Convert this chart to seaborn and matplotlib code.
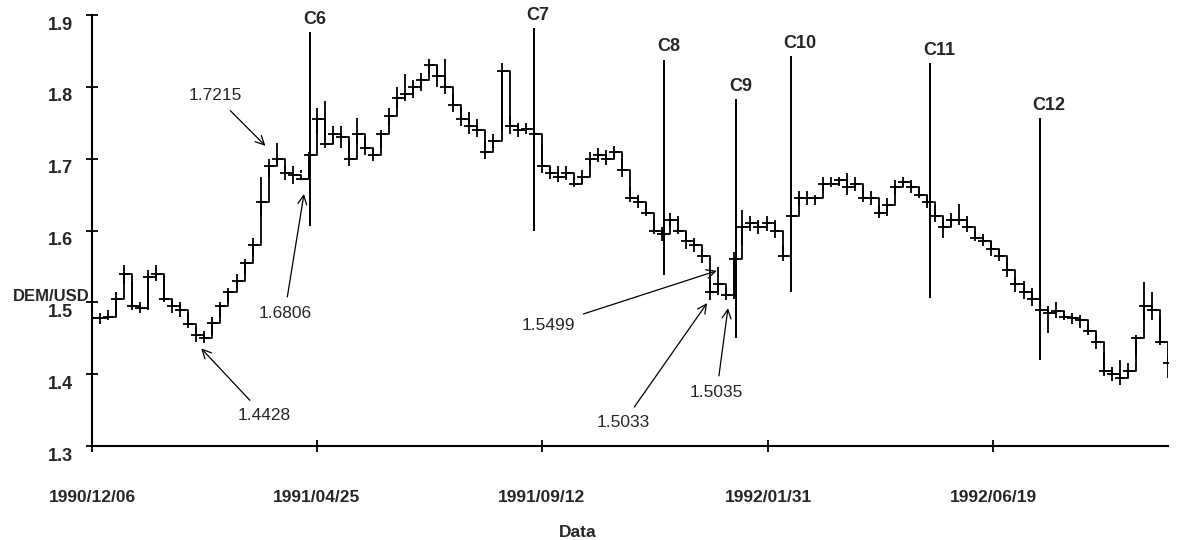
import matplotlib
matplotlib.use("Agg")
import matplotlib.pyplot as plt
import matplotlib.transforms as mtransforms
import numpy as np
import pandas as pd
import seaborn as sns

# ---- DEM/USD rate, sampled every 5 calendar days from 1990-12-06 ----
start_date = "1990-12-06"
close = [1.478, 1.478, 1.480, 1.505, 1.540, 1.495, 1.492, 1.535, 1.540, 1.505,
         1.495, 1.490, 1.470, 1.455, 1.450, 1.472, 1.495, 1.515, 1.530, 1.555,
         1.580, 1.640, 1.690, 1.700, 1.680, 1.678, 1.672, 1.705, 1.755, 1.720,
         1.735, 1.730, 1.700, 1.735, 1.715, 1.705, 1.735, 1.760, 1.785, 1.790,
         1.800, 1.810, 1.830, 1.815, 1.800, 1.775, 1.755, 1.745, 1.740, 1.710,
         1.725, 1.822, 1.745, 1.740, 1.742, 1.735, 1.690, 1.680, 1.675, 1.680,
         1.665, 1.675, 1.700, 1.705, 1.700, 1.710, 1.685, 1.645, 1.640, 1.625,
         1.600, 1.595, 1.615, 1.600, 1.585, 1.580, 1.565, 1.515, 1.525, 1.510,
         1.560, 1.605, 1.610, 1.605, 1.610, 1.600, 1.565, 1.620, 1.645, 1.645,
         1.645, 1.665, 1.665, 1.670, 1.660, 1.665, 1.645, 1.645, 1.625, 1.635,
         1.660, 1.668, 1.660, 1.650, 1.640, 1.620, 1.605, 1.615, 1.615, 1.605,
         1.590, 1.585, 1.575, 1.565, 1.545, 1.525, 1.515, 1.505, 1.490, 1.485,
         1.488, 1.480, 1.478, 1.475, 1.460, 1.445, 1.405, 1.400, 1.395, 1.405,
         1.450, 1.495, 1.490, 1.445, 1.415]
high = [1.490, 1.485, 1.490, 1.515, 1.552, 1.530, 1.500, 1.545, 1.552, 1.540,
        1.505, 1.500, 1.485, 1.465, 1.460, 1.480, 1.500, 1.520, 1.540, 1.560,
        1.590, 1.675, 1.700, 1.7215, 1.690, 1.690, 1.685, 1.710, 1.770, 1.780,
        1.745, 1.745, 1.725, 1.757, 1.730, 1.715, 1.740, 1.770, 1.800, 1.818,
        1.810, 1.820, 1.839, 1.830, 1.839, 1.790, 1.770, 1.765, 1.755, 1.725,
        1.735, 1.833, 1.760, 1.750, 1.750, 1.745, 1.720, 1.690, 1.690, 1.690,
        1.675, 1.685, 1.710, 1.715, 1.712, 1.718, 1.700, 1.660, 1.650, 1.640,
        1.615, 1.605, 1.625, 1.620, 1.600, 1.590, 1.575, 1.530, 1.5499, 1.520,
        1.570, 1.628, 1.620, 1.615, 1.620, 1.615, 1.580, 1.630, 1.655, 1.655,
        1.650, 1.675, 1.675, 1.675, 1.680, 1.675, 1.660, 1.655, 1.635, 1.645,
        1.670, 1.675, 1.670, 1.660, 1.650, 1.635, 1.620, 1.625, 1.637, 1.620,
        1.600, 1.595, 1.585, 1.575, 1.560, 1.535, 1.530, 1.520, 1.500, 1.495,
        1.500, 1.488, 1.485, 1.482, 1.470, 1.455, 1.430, 1.410, 1.420, 1.415,
        1.455, 1.528, 1.515, 1.480, 1.425]
low = [1.465, 1.470, 1.475, 1.480, 1.525, 1.490, 1.485, 1.490, 1.530, 1.500,
       1.485, 1.480, 1.465, 1.445, 1.4428, 1.455, 1.480, 1.500, 1.520, 1.540,
       1.565, 1.620, 1.675, 1.690, 1.670, 1.665, 1.6806, 1.672, 1.735, 1.715,
       1.720, 1.715, 1.690, 1.720, 1.705, 1.697, 1.715, 1.745, 1.770, 1.780,
       1.785, 1.795, 1.820, 1.800, 1.790, 1.765, 1.745, 1.735, 1.730, 1.700,
       1.715, 1.740, 1.735, 1.730, 1.735, 1.728, 1.680, 1.672, 1.668, 1.670,
       1.660, 1.665, 1.690, 1.695, 1.692, 1.700, 1.675, 1.640, 1.632, 1.620,
       1.595, 1.585, 1.605, 1.595, 1.575, 1.570, 1.555, 1.5033, 1.510, 1.5035,
       1.505, 1.580, 1.600, 1.595, 1.600, 1.590, 1.558, 1.600, 1.635, 1.635,
       1.635, 1.655, 1.660, 1.662, 1.650, 1.655, 1.640, 1.635, 1.618, 1.620,
       1.650, 1.660, 1.652, 1.645, 1.632, 1.612, 1.590, 1.605, 1.608, 1.598,
       1.585, 1.578, 1.565, 1.558, 1.535, 1.515, 1.505, 1.495, 1.478, 1.457,
       1.478, 1.475, 1.470, 1.465, 1.455, 1.435, 1.398, 1.390, 1.385, 1.395,
       1.425, 1.475, 1.475, 1.440, 1.395]

# ---- marked events: date, line top, line bottom ----
event_names = ["C6", "C7", "C8", "C9", "C10", "C11", "C12"]
event_dates = ["1991-04-21", "1991-09-07", "1991-11-27", "1992-01-11",
               "1992-02-14", "1992-05-11", "1992-07-18"]
event_top = [1.876, 1.882, 1.838, 1.783, 1.843, 1.833, 1.757]
event_bottom = [1.607, 1.600, 1.538, 1.450, 1.514, 1.506, 1.420]

# ---- value callouts: label, point date/value, label date/value ----
note_labels = ["1.7215", "1.6806", "1.4428", "1.5499", "1.5033", "1.5035"]
note_dates = ["1991-03-24", "1991-04-17", "1991-02-12", "1991-12-30",
              "1991-12-24", "1992-01-06"]
note_values = [1.718, 1.651, 1.436, 1.544, 1.499, 1.492]
note_text_dates = ["1991-02-21", "1991-04-05", "1991-03-23", "1991-09-16",
                   "1991-11-02", "1991-12-30"]
note_text_values = [1.7875, 1.485, 1.343, 1.468, 1.333, 1.375]

tick_dates = ["1990-12-06", "1991-04-25", "1991-09-12", "1992-01-31", "1992-06-19"]
tick_labels = ["1990/12/06", "1991/04/25", "1991/09/12", "1992/01/31", "1992/06/19"]
y_ticks = [1.3, 1.4, 1.5, 1.6, 1.7, 1.8, 1.9]
y_tick_labels = ["1.3", "1.4", "1.5", "1.6", "1.7", "1.8", "1.9"]

sns.set_theme(style="white")
plt.rcParams["font.family"] = ["Liberation Sans", "DejaVu Sans"]

fig, ax = plt.subplots(figsize=(11.82, 5.4), dpi=100)
fig.subplots_adjust(left=0.0778, right=0.9882, bottom=0.174, top=0.972)

df = pd.DataFrame({
    "date": pd.date_range(start_date, periods=len(close), freq="5D"),
    "close": close, "high": high, "low": low,
})

# high-low bars joined by a stepped close line, with a dash at each close
ax.vlines(df["date"], df["low"], df["high"], color="black", lw=1.3)
sns.lineplot(data=df, x="date", y="close", drawstyle="steps-post",
             color="black", lw=1.3, ax=ax)
sns.scatterplot(data=df, x="date", y="close", marker="_", s=45,
                color="black", linewidth=1.3, ax=ax, zorder=3)

# event markers
ev_dates = pd.to_datetime(event_dates)
ax.vlines(ev_dates, event_bottom, event_top, color="black", lw=1.4)
for name, d, top in zip(event_names, ev_dates, event_top):
    ax.annotate(name, (d, top), xytext=(-5, 3), textcoords="offset points",
                ha="left", va="bottom", fontsize=13, fontweight="bold")

# value callouts with arrows
for lab, d, v, td, tv in zip(note_labels, pd.to_datetime(note_dates), note_values,
                             pd.to_datetime(note_text_dates), note_text_values):
    ax.annotate(lab, xy=(d, v), xytext=(td, tv), ha="center", va="center",
                fontsize=12.5,
                arrowprops=dict(arrowstyle="->", color="black", lw=0.9,
                                shrinkA=4, shrinkB=0, mutation_scale=16))

ax.set_xlim(pd.Timestamp("1990-12-06"), pd.Timestamp("1992-10-06"))
ax.set_ylim(1.3, 1.9)

ax.set_xticks(pd.to_datetime(tick_dates))
ax.set_xticklabels(tick_labels, fontsize=12.5, fontweight="bold")
ax.set_yticks(y_ticks)
ax.set_yticklabels(y_tick_labels, fontsize=13, fontweight="bold")
ax.tick_params(axis="both", direction="inout", length=9, width=1.3,
               color="black", left=True, bottom=True)
ax.tick_params(axis="x", pad=27)
ax.tick_params(axis="y", pad=9)

# tick labels on the value axis sit a little below their ticks
shift = mtransforms.ScaledTranslation(0, -8 / 100, fig.dpi_scale_trans)
for t in ax.get_yticklabels():
    t.set_transform(t.get_transform() + shift)

ax.set_xlabel("Data", fontsize=12.5, fontweight="bold")
ax.xaxis.set_label_coords(0.4517, -0.183)
ax.set_ylabel("DEM/USD", fontsize=12, fontweight="bold", rotation=0,
              ha="center", va="center")
ax.yaxis.set_label_coords(-0.038, 0.348)

sns.despine(ax=ax)
for side in ("left", "bottom"):
    ax.spines[side].set_color("black")
    ax.spines[side].set_linewidth(1.5)

fig.savefig("out.png", dpi=100, facecolor="white")
